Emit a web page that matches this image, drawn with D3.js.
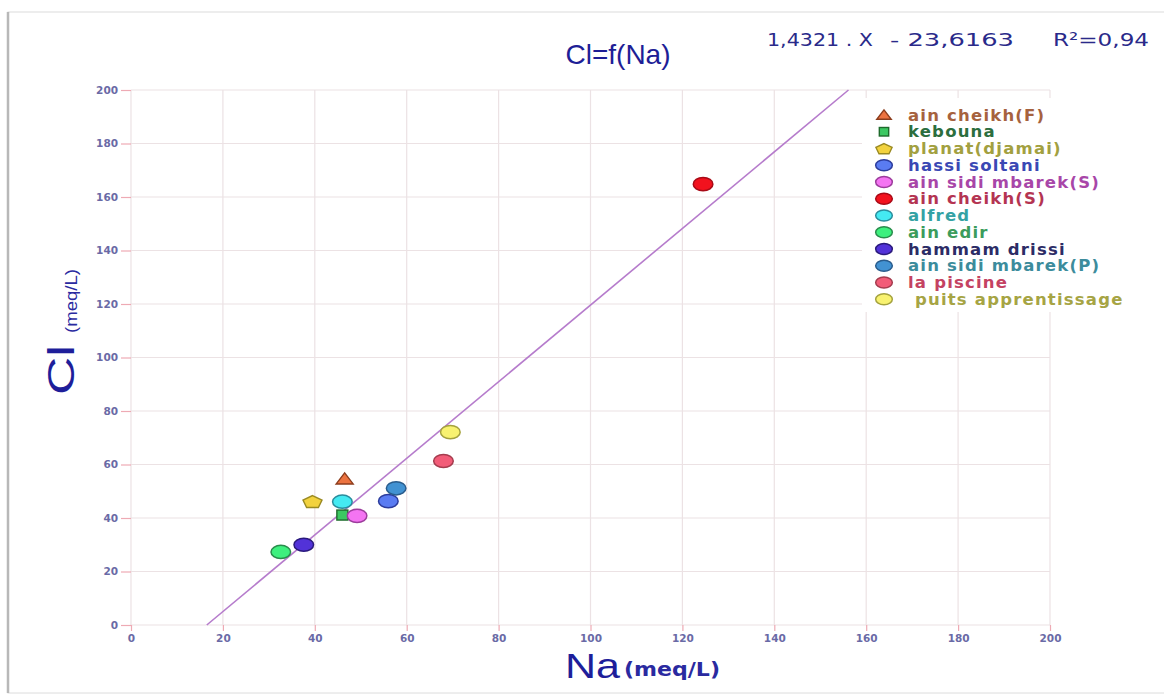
<!DOCTYPE html>
<html>
<head>
<meta charset="utf-8">
<script src="https://cdn.jsdelivr.net/npm/d3@7"></script>
<style>
  html, body { margin: 0; padding: 0; background: #ffffff; }
  svg { display: block; }
</style>
</head>
<body>
<svg id="chart" width="1164" height="698"></svg>
<script>
// Sampling sites and their ion concentrations (meq/L)
const sites = ["ain cheikh(F)", "kebouna", "planat(djamai)", "hassi soltani",
  "ain sidi mbarek(S)", "ain cheikh(S)", "alfred", "ain edir", "hammam drissi",
  "ain sidi mbarek(P)", "la piscine", " puits apprentissage"];
const naValues = [46.5, 46.0, 39.5, 56.0, 49.2, 124.5, 46.0, 32.6, 37.6, 57.7, 68.0, 69.5];
const clValues = [54.6, 41.1, 46.2, 46.3, 40.8, 164.8, 46.1, 27.3, 30.0, 51.1, 61.3, 72.1];
const markerShapes = ["triangle", "square", "pentagon", "ellipse", "ellipse", "ellipse",
  "ellipse", "ellipse", "ellipse", "ellipse", "ellipse", "ellipse"];
const fillColors = ["#ec7340", "#3cc862", "#f2d23e", "#5a7cf2", "#f474f2", "#f2121e",
  "#44eaf2", "#3ef07e", "#5232d8", "#4292d2", "#f25c78", "#f8f270"];
const strokeColors = ["#8c3c1c", "#1e6a2c", "#9a8a22", "#2c3c9c", "#9c3c9c", "#a80a16",
  "#2a8c9c", "#2a8c4c", "#2a1a7c", "#2a5c8c", "#a43c4e", "#a4a23e"];
const labelColors = ["#a6623e", "#2c6e3e", "#a2a040", "#3a48b4", "#a846a8", "#b43452",
  "#34a2a4", "#3c9c5c", "#2c2c66", "#3c8c9c", "#c44262", "#a6a444"];

// Axis ticks
const xTicks = [0, 20, 40, 60, 80, 100, 120, 140, 160, 180, 200];
const yTicks = [0, 20, 40, 60, 80, 100, 120, 140, 160, 180, 200];

// Linear fit Cl = a * Na + b
const slope = 1.4321;
const intercept = -23.6163;
const equationParts = ["1,4321 . X", "- 23,6163", "R\u00B2=0,94"];

const svg = d3.select("#chart");

// Outer frame with a soft shadow on the left
svg.append("rect").attr("x", 8).attr("y", 12).attr("width", 1170).attr("height", 681)
  .attr("fill", "#ffffff").attr("stroke", "#dcdcdc").attr("stroke-width", 1);
svg.append("line").attr("x1", 8).attr("x2", 8).attr("y1", 12).attr("y2", 693)
  .attr("stroke", "#b8b8b8").attr("stroke-width", 2.5);

const x = d3.scaleLinear().domain([0, 200]).range([131, 1050]);
const y = d3.scaleLinear().domain([0, 200]).range([625, 90]);

// Grid
const grid = svg.append("g");
grid.selectAll(".gx").data(xTicks).join("line")
  .attr("x1", d => x(d)).attr("x2", d => x(d))
  .attr("y1", y(0)).attr("y2", y(200))
  .attr("stroke", "#ece2e4").attr("stroke-width", 1.2);
grid.selectAll(".gy").data(yTicks).join("line")
  .attr("x1", x(0)).attr("x2", x(200))
  .attr("y1", d => y(d)).attr("y2", d => y(d))
  .attr("stroke", "#ece2e4").attr("stroke-width", 1.2);

// Axes (tick marks + labels)
const tickFont = "DejaVu Sans, Verdana, sans-serif";
const xAxis = svg.append("g").attr("transform", `translate(0,${y(0)})`)
  .call(d3.axisBottom(x).tickValues(xTicks).tickSize(6).tickPadding(4));
const yAxis = svg.append("g").attr("transform", `translate(${x(0)},0)`)
  .call(d3.axisLeft(y).tickValues(yTicks).tickSize(10).tickPadding(3));
[xAxis, yAxis].forEach(g => {
  g.select(".domain").remove();
  g.selectAll(".tick line").attr("stroke", "#eeaab4").attr("stroke-width", 1.2);
  g.selectAll(".tick text").attr("fill", "#6a6aa6")
    .style("font-family", tickFont).style("font-size", "10.5px").style("font-weight", "bold");
});

// Regression line, clipped to the plotting range
const lineX0 = -intercept / slope;
const lineX1 = (200 - intercept) / slope;
svg.append("line")
  .attr("x1", x(lineX0)).attr("y1", y(slope * lineX0 + intercept))
  .attr("x2", x(lineX1)).attr("y2", y(slope * lineX1 + intercept))
  .attr("stroke", "#b67ccc").attr("stroke-width", 1.6);

// Marker drawing helper
function drawMarker(g, shape, fill, stroke, scale) {
  const s = scale;
  if (shape === "ellipse") {
    g.append("ellipse").attr("rx", 9.8 * s).attr("ry", 6.6 * s)
      .attr("fill", fill).attr("stroke", stroke).attr("stroke-width", 1.5);
  } else if (shape === "triangle") {
    g.append("path").attr("d", `M0,${-6 * s} L${8.5 * s},${5 * s} L${-8.5 * s},${5 * s} Z`)
      .attr("fill", fill).attr("stroke", stroke).attr("stroke-width", 1.4);
  } else if (shape === "square") {
    g.append("rect").attr("x", -5.5 * s).attr("y", -5 * s).attr("width", 11 * s).attr("height", 10 * s)
      .attr("fill", fill).attr("stroke", stroke).attr("stroke-width", 1.4);
  } else if (shape === "pentagon") {
    const pts = d3.range(5).map(i => {
      const a = -Math.PI / 2 + i * 2 * Math.PI / 5;
      return [Math.cos(a) * 10 * s, Math.sin(a) * 6.6 * s + 0.8 * s];
    });
    g.append("path").attr("d", "M" + pts.join("L") + "Z")
      .attr("fill", fill).attr("stroke", stroke).attr("stroke-width", 1.4);
  }
}

// Data points
sites.forEach((name, i) => {
  const g = svg.append("g").attr("transform", `translate(${x(naValues[i])},${y(clValues[i])})`);
  drawMarker(g, markerShapes[i], fillColors[i], strokeColors[i], 1);
});

// Legend on a white panel
svg.append("rect").attr("x", 862).attr("y", 98).attr("width", 268).attr("height", 214)
  .attr("fill", "#ffffff");
const legendX = 884, legendY = 115, legendStep = 16.75;
sites.forEach((name, i) => {
  const g = svg.append("g").attr("transform", `translate(${legendX},${legendY + i * legendStep})`);
  drawMarker(g, markerShapes[i], fillColors[i], strokeColors[i], 0.85);
  svg.append("text").attr("x", legendX + 24).attr("y", legendY + i * legendStep + 5.5)
    .attr("fill", labelColors[i]).attr("xml:space", "preserve")
    .style("font-family", tickFont).style("font-size", "16.5px").style("font-weight", "bold")
    .style("letter-spacing", "1.2px")
    .text(name);
});

// Title and fit equation
svg.append("text").attr("x", 618).attr("y", 64).attr("text-anchor", "middle")
  .attr("fill", "#1e1e96").style("font-family", "Liberation Sans, Arial, sans-serif")
  .style("font-size", "28px").text("Cl=f(Na)");
const eq = svg.append("text").attr("y", 46)
  .attr("fill", "#2a2a8a").style("font-family", tickFont).style("font-size", "18.5px");
const eqX = [767, 890, 1053];
const eqW = [106, 124, 96];
equationParts.forEach((p, i) => eq.append("tspan").attr("x", eqX[i])
  .attr("textLength", eqW[i]).attr("lengthAdjust", "spacingAndGlyphs").text(p));

// Axis titles
svg.append("text").attr("transform", "translate(74,370) rotate(-90)")
  .attr("text-anchor", "middle").attr("fill", "#1e1e9a")
  .attr("textLength", 50).attr("lengthAdjust", "spacingAndGlyphs")
  .style("font-family", "Liberation Sans, Arial, sans-serif").style("font-size", "37px")
  .text("Cl");
svg.append("text").attr("transform", "translate(77,301) rotate(-90)")
  .attr("text-anchor", "middle").attr("fill", "#2a2aa0")
  .attr("textLength", 64).attr("lengthAdjust", "spacingAndGlyphs")
  .style("font-family", "Liberation Sans, Arial, sans-serif").style("font-size", "16px")
  .text("(meq/L)");

svg.append("text").attr("x", 565).attr("y", 678).attr("fill", "#1e1e9a")
  .attr("textLength", 55).attr("lengthAdjust", "spacingAndGlyphs")
  .style("font-family", "Liberation Sans, Arial, sans-serif").style("font-size", "35px")
  .text("Na");
svg.append("text").attr("x", 624).attr("y", 676).attr("fill", "#2a2aa0")
  .attr("textLength", 96).attr("lengthAdjust", "spacingAndGlyphs")
  .style("font-family", tickFont).style("font-size", "20px").style("font-weight", "bold")
  .text("(meq/L)");
</script>
</body>
</html>
